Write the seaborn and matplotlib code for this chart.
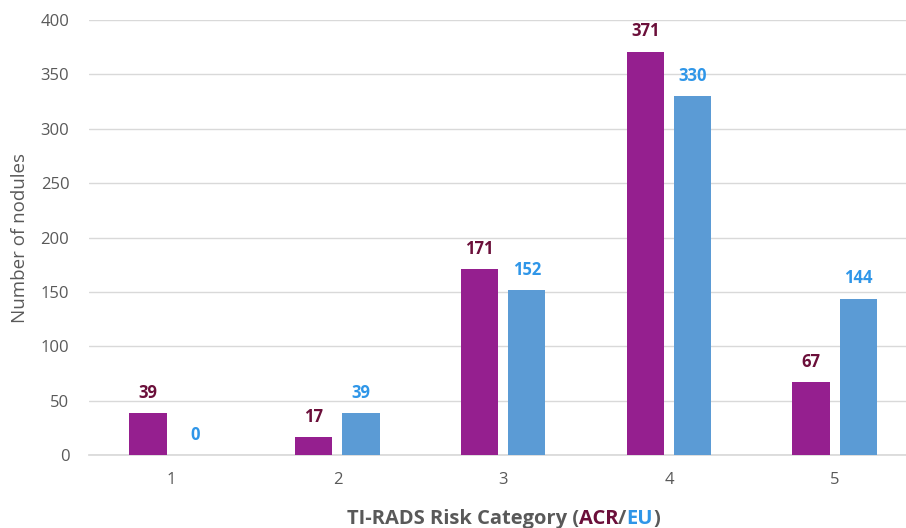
import pandas as pd
import matplotlib.pyplot as plt
import seaborn as sns

categories = ['1', '2', '3', '4', '5']
acr = [39, 17, 171, 371, 67]
eu = [0, 39, 152, 330, 144]

df = pd.DataFrame({
    'category': categories * 2,
    'count': acr + eu,
    'system': ['ACR'] * len(categories) + ['EU'] * len(categories),
})

sns.set_theme(style='white')
plt.rcParams['font.family'] = ['Open Sans', 'DejaVu Sans']

bar_colors = {'ACR': '#951f8f', 'EU': '#5b9bd5'}
label_colors = {'ACR': '#6b0f3a', 'EU': '#2f96e8'}
gray = '#595959'

fig = plt.figure(figsize=(9.06, 5.28), dpi=100)
ax = fig.add_axes([0.098, 0.138, 0.902, 0.824])

sns.barplot(data=df, x='category', y='count', hue='system', order=categories,
            hue_order=['ACR', 'EU'], palette=bar_colors, width=0.57, gap=0.21,
            saturation=1, linewidth=0, legend=False, ax=ax, zorder=3)

# value labels
for container, name in zip(ax.containers, ['ACR', 'EU']):
    ax.bar_label(container, padding=8, color=label_colors[name],
                 fontsize=12, fontweight='bold')

ax.set_ylim(0, 400)
ax.set_xlim(-0.5, 4.43)
ax.set_yticks(range(0, 401, 50))
ax.yaxis.grid(True, color='#d9d9d9', linewidth=1.0, zorder=0)
ax.set_axisbelow(True)
for s in ['top', 'right', 'left']:
    ax.spines[s].set_visible(False)
ax.spines['bottom'].set_color('#d9d9d9')
ax.tick_params(axis='both', colors=gray, labelsize=12, length=0)
ax.tick_params(axis='x', pad=12)
ax.tick_params(axis='y', pad=14)
ax.set_xlabel('')
ax.set_ylabel('Number of nodules', color=gray, fontsize=13.5, labelpad=8)

# multi-coloured x-axis title, pieces chained one after another
parts = [('TI-RADS Risk Category (', gray), ('ACR', label_colors['ACR']),
         ('/', gray), ('EU', label_colors['EU']), (')', gray)]
texts = [fig.text(0, 0.008, parts[0][0], color=parts[0][1], fontsize=14.5, fontweight='bold')]
for s, c in parts[1:]:
    t = fig.text(0, 0, s, color=c, fontsize=14.5, fontweight='bold')
    texts.append(t)
fig.canvas.draw()
renderer = fig.canvas.get_renderer()
widths = [t.get_window_extent(renderer).width for t in texts]
# measure the full string to keep spacing natural
full = fig.text(0, 0, ''.join(p[0] for p in parts), fontsize=14.5, fontweight='bold')
total = full.get_window_extent(renderer).width
full.remove()
fw = fig.get_window_extent(renderer).width
x0 = (ax.transData.transform((0.0, 0))[0] + ax.transData.transform((4.0, 0))[0]) / 2 - total / 2
texts[0].set_x(x0 / fw)
for prev, t in zip(texts[:-1], texts[1:]):
    t.set_position((0, 0))
    t.set_transform(fig.transFigure)
    t.remove()
for i, (s, c) in enumerate(parts[1:]):
    texts[i + 1] = ax.annotate(s, xy=(1, 0), xycoords=texts[i], va='bottom',
                               color=c, fontsize=14.5, fontweight='bold',
                               annotation_clip=False)

plt.savefig('out.png', dpi=100)
